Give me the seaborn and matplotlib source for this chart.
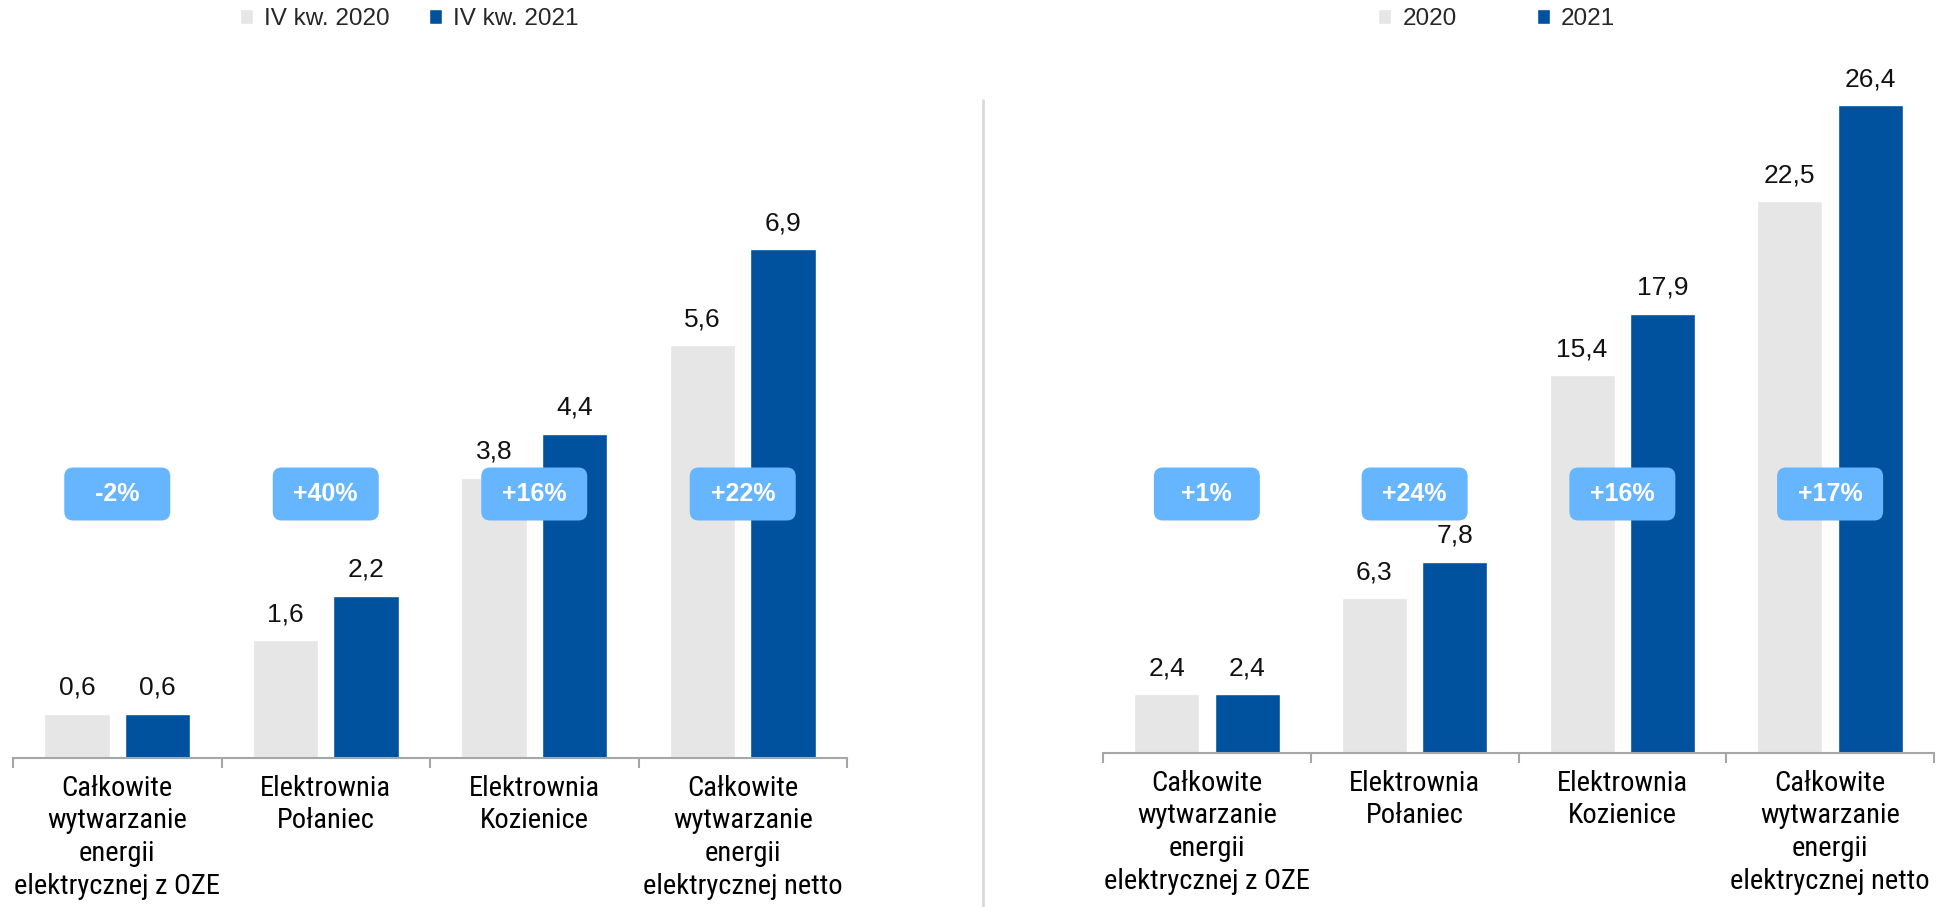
import matplotlib
matplotlib.use("Agg")
import matplotlib.pyplot as plt
from matplotlib import font_manager
from matplotlib.patches import FancyBboxPatch
from matplotlib.lines import Line2D
from matplotlib.transforms import IdentityTransform
import pandas as pd
import seaborn as sns

# data
categories = [
    "Całkowite\nwytwarzanie\nenergii\nelektrycznej z OZE",
    "Elektrownia\nPołaniec",
    "Elektrownia\nKozienice",
    "Całkowite\nwytwarzanie\nenergii\nelektrycznej netto",
]
q_labels = ["IV kw. 2020", "IV kw. 2021"]
q_2020 = [0.6, 1.6, 3.8, 5.6]
q_2021 = [0.6, 2.2, 4.4, 6.9]
q_change = ["-2%", "+40%", "+16%", "+22%"]

y_labels = ["2020", "2021"]
y_2020 = [2.4, 6.3, 15.4, 22.5]
y_2021 = [2.4, 7.8, 17.9, 26.4]
y_change = ["+1%", "+24%", "+16%", "+17%"]

GREY = "#E6E6E6"
BLUE = "#00529E"
PILL = "#66B5FF"
AXIS = "#A6A6A6"

sns.set_theme(style="white")
plt.rcParams["font.family"] = ["Liberation Sans", "DejaVu Sans"]


# look for a narrow / condensed face for the category labels
def find_narrow(size):
    prefs = ["liberationsansnarrow-regular", "robotocondensed-regular",
             "notosans-condensed", "opensans_condensed-regular",
             "opensans-condensedregular", "dejavusanscondensed."]
    files = [f.fname for f in font_manager.fontManager.ttflist]
    for p in prefs:
        for fn in files:
            if p in fn.lower().replace(" ", ""):
                return font_manager.FontProperties(fname=fn, size=size)
    for fn in files:
        low = fn.lower()
        if ("condensed" in low or "narrow" in low) and "bold" not in low \
                and "oblique" not in low and "italic" not in low:
            return font_manager.FontProperties(fname=fn, size=size)
    return font_manager.FontProperties(family="DejaVu Sans", size=size - 2)


cat_font = find_narrow(20.5)


def long_df(v1, v2, labels):
    return pd.DataFrame({
        "cat": categories * 2,
        "period": [labels[0]] * 4 + [labels[1]] * 4,
        "value": list(v1) + list(v2),
    })


def panel(fig, rect, v1, v2, labels, changes, ymax, leg_anchor, colspace):
    ax = fig.add_axes(rect)
    df = long_df(v1, v2, labels)
    sns.barplot(data=df, x="cat", y="value", hue="period", palette=[GREY, BLUE],
                width=0.775, gap=0.19, ax=ax, saturation=1)
    ax.set_xlim(-0.5, 3.5)
    ax.set_ylim(0, ymax)
    ax.set_xlabel("")
    ax.set_ylabel("")
    ax.set_yticks([])
    for s in ["top", "right", "left"]:
        ax.spines[s].set_visible(False)
    ax.spines["bottom"].set_color(AXIS)
    ax.spines["bottom"].set_linewidth(1.5)
    ax.set_xticks(range(4))
    ax.set_xticklabels(categories, fontproperties=cat_font, linespacing=1.27)
    ax.set_xticks([-0.5, 0.5, 1.5, 2.5, 3.5], minor=True)
    ax.tick_params(axis="x", which="major", length=0, pad=12, colors="black")
    ax.tick_params(axis="x", which="minor", length=7, width=1.5, color=AXIS, bottom=True)

    for cont in ax.containers:
        vals = cont.datavalues
        ax.bar_label(cont, labels=[f"{v:.1f}".replace(".", ",") for v in vals],
                     padding=10, fontsize=19, color="#111111", clip_on=False)

    handles, _ = ax.get_legend_handles_labels()
    ax.legend(handles, labels, loc="center left", bbox_to_anchor=leg_anchor,
              bbox_transform=fig.transFigure, ncol=2, frameon=False,
              fontsize=17.5, handlelength=0.55, handleheight=0.55,
              handletextpad=0.45, columnspacing=colspace,
              borderpad=0, borderaxespad=0)

    # change pills
    pill_w, pill_h = 106, 53
    pill_cy = 907 - 494
    for i, txt in enumerate(changes):
        cx, _ = ax.transData.transform((i, 0))
        box = FancyBboxPatch((cx - pill_w / 2, pill_cy - pill_h / 2), pill_w, pill_h,
                             boxstyle="round,pad=0,rounding_size=9",
                             transform=IdentityTransform(), fc=PILL, ec="none", zorder=5)
        fig.add_artist(box)
        fig.text(cx, pill_cy, txt, transform=IdentityTransform(), ha="center",
                 va="center", color="white", fontsize=18, fontweight="bold", zorder=6)
    return ax


fig = plt.figure(figsize=(19.52, 9.07), dpi=100)

panel(fig, [13 / 1952, 149 / 907, 834 / 1952, 590 / 907],
      q_2020, q_2021, q_labels, q_change, 8.0, (240 / 1952, 1 - 19 / 907), 1.6)
panel(fig, [1103 / 1952, 154 / 907, 831 / 1952, 687 / 907],
      y_2020, y_2021, y_labels, y_change, 28.0, (1378 / 1952, 1 - 19 / 907), 3.3)

# divider between the two panels
fig.add_artist(Line2D([983 / 1952, 983 / 1952], [0, 1 - 100 / 907],
                      transform=fig.transFigure, color="#D9D9D9", lw=2))

fig.savefig("out.png", dpi=100)
